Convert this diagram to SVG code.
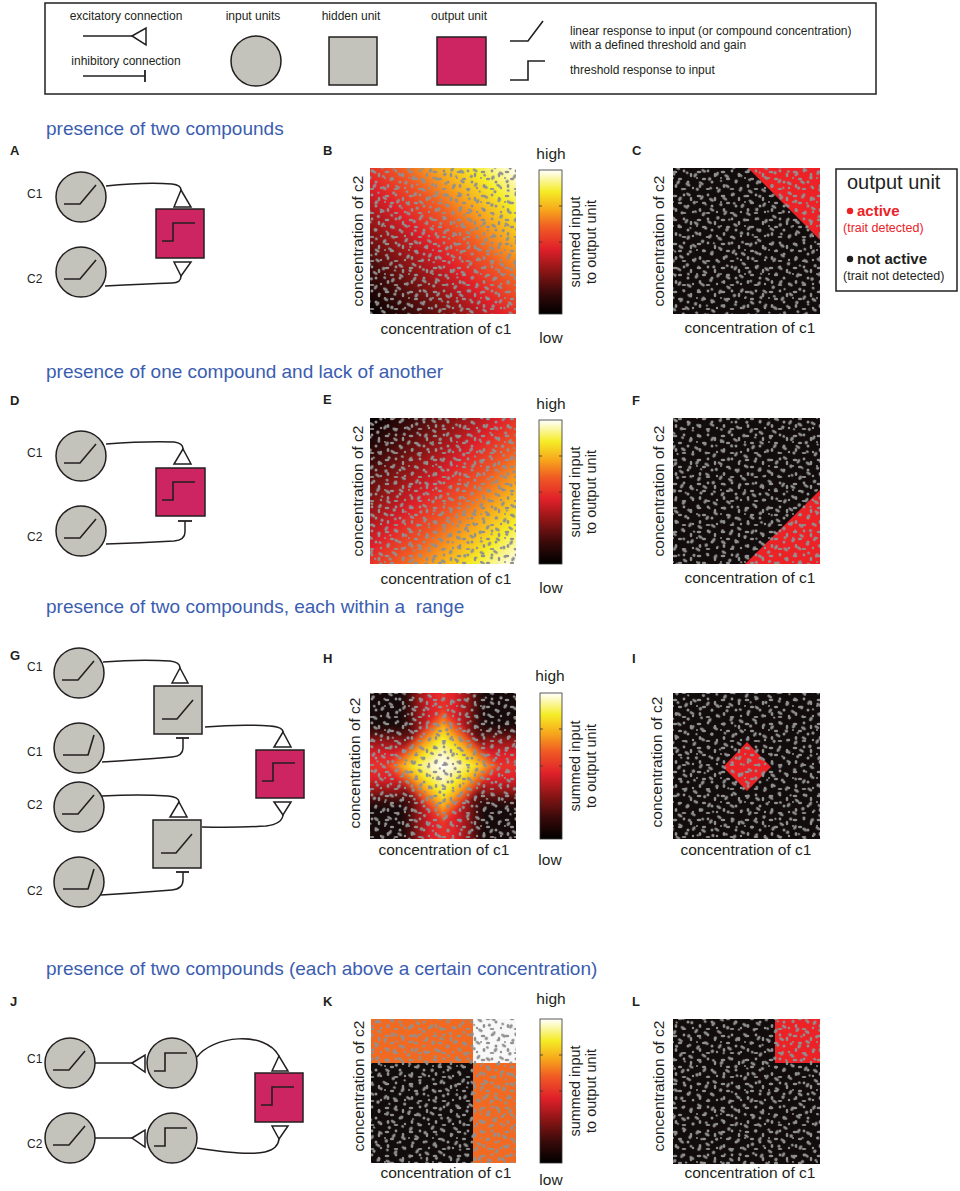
<svg xmlns="http://www.w3.org/2000/svg" width="960" height="1191" viewBox="0 0 960 1191">
<style>
.in{fill:#c4c3bb;stroke:#231f20;stroke-width:1.5}
.out{fill:#cd2562;stroke:#231f20;stroke-width:1.5}
.ic{fill:none;stroke:#231f20;stroke-width:1.6}
.wire{fill:none;stroke:#231f20;stroke-width:1.5}
.tri{fill:#fff;stroke:#231f20;stroke-width:1.5}
.bar{fill:none;stroke:#231f20;stroke-width:1.8}
text{font-family:"Liberation Sans",Arial,sans-serif;fill:#231f20}
.t12{font-size:12px}
.title{font-size:19px;fill:#3b5db0}
.pl{font-size:13px;font-weight:bold}
.ax{font-size:15.5px}
.cb{font-size:14.5px}
.cbar{stroke:#333;stroke-width:0.8}
.tick{stroke:#333;stroke-width:0.8}
.bg{fill:#909090}
.blk{fill:#120c0c}
.red{fill:#ec2227}
.sp1{fill:url(#speck)}
.sp2{fill:url(#speck2)}
</style>
<defs>
<pattern id="speck" width="24" height="24" patternUnits="userSpaceOnUse">
<g fill="#909090">
<ellipse cx="3" cy="4" rx="2.4" ry="1.3"/>
<circle cx="12" cy="3" r="1.4"/>
<ellipse cx="19" cy="7" rx="1.3" ry="2.2"/>
<ellipse cx="8" cy="11" rx="2.2" ry="1.2"/>
<circle cx="16" cy="14" r="1.5"/>
<ellipse cx="4" cy="18" rx="1.4" ry="2"/>
<ellipse cx="12" cy="21" rx="2.4" ry="1.1"/>
<circle cx="21" cy="20" r="1.2"/>
<circle cx="1" cy="10" r="1"/>
</g>
</pattern>
<pattern id="speck2" href="#speck" patternTransform="rotate(33) scale(1.17)"/>
<linearGradient id="cmap" x1="0" y1="1" x2="0" y2="0">
<stop offset="0" stop-color="#000"/>
<stop offset="0.15" stop-color="#3a0a0a"/>
<stop offset="0.3" stop-color="#8c1515"/>
<stop offset="0.45" stop-color="#e0202a"/>
<stop offset="0.6" stop-color="#f05a24"/>
<stop offset="0.72" stop-color="#f7a51c"/>
<stop offset="0.85" stop-color="#f5ec25"/>
<stop offset="1" stop-color="#fff"/>
</linearGradient>
<linearGradient id="gB" href="#cmap" x1="0" y1="1" x2="1" y2="0"/>
<linearGradient id="gE" href="#cmap" x1="0" y1="0" x2="1" y2="1"/>
<linearGradient id="band" x1="0" y1="0" x2="0" y2="1">
<stop offset="0" stop-color="#200a0a" stop-opacity="0"/>
<stop offset="0.2" stop-color="#3a0a0a" stop-opacity="0"/>
<stop offset="0.32" stop-color="#8c1515" stop-opacity="1"/>
<stop offset="0.42" stop-color="#e0202a"/>
<stop offset="0.5" stop-color="#e8302a"/>
<stop offset="0.58" stop-color="#e0202a"/>
<stop offset="0.68" stop-color="#8c1515" stop-opacity="1"/>
<stop offset="0.8" stop-color="#3a0a0a" stop-opacity="0"/>
<stop offset="1" stop-color="#200a0a" stop-opacity="0"/>
</linearGradient>
<linearGradient id="bandV" href="#band" x1="0" y1="0" x2="1" y2="0"/>
<linearGradient id="core" x1="0" y1="0" x2="1" y2="1">
<stop offset="0" stop-color="#fff"/>
<stop offset="0.1" stop-color="#fbf6b8"/>
<stop offset="0.2" stop-color="#f5e925"/>
<stop offset="0.28" stop-color="#f7a51c"/>
<stop offset="0.36" stop-color="#f05a24" stop-opacity="0.8"/>
<stop offset="0.44" stop-color="#e0202a" stop-opacity="0"/>
<stop offset="1" stop-color="#e0202a" stop-opacity="0"/>
</linearGradient>
<linearGradient id="hBR" href="#core" x1="0" y1="0" x2="1" y2="1"/>
<linearGradient id="hBL" href="#core" x1="1" y1="0" x2="0" y2="1"/>
<linearGradient id="hTR" href="#core" x1="0" y1="1" x2="1" y2="0"/>
<linearGradient id="hTL" href="#core" x1="1" y1="1" x2="0" y2="0"/>
<path id="lin" class="ic" d="M-17,7 H-1 L15,-12"/>
<path id="linS" class="ic" d="M-16,7 H9 L15,-13"/>
<path id="linH" class="ic" d="M-16,9 H-1 L15,-10"/>
<path id="step" class="ic" d="M-18,8 H-7 V-10 H15"/>
</defs>

<g id="legend">
<rect x="45" y="3" width="831" height="91" fill="#fff" stroke="#231f20" stroke-width="1.5"/>
<text class="t12" x="126" y="20" text-anchor="middle">excitatory connection</text>
<path class="wire" d="M83,36 H132"/>
<path class="tri" d="M132,36 L146,28 L146,45 Z"/>
<text class="t12" x="126" y="65" text-anchor="middle">inhibitory connection</text>
<path class="wire" d="M83,76 H145"/>
<path class="bar" d="M145,70 V82"/>
<text class="t12" x="253" y="20" text-anchor="middle">input units</text>
<circle class="in" cx="256" cy="61" r="25"/>
<text class="t12" x="351" y="20" text-anchor="middle">hidden unit</text>
<rect class="in" x="329" y="37" width="48" height="48"/>
<text class="t12" x="459" y="20" text-anchor="middle">output unit</text>
<rect class="out" x="437" y="37" width="49" height="48"/>
<path class="ic" d="M510,41 H528 L543,21"/>
<text class="t12" x="570" y="35">linear response to input (or compound concentration)</text>
<text class="t12" x="570" y="49">with a defined threshold and gain</text>
<path class="ic" d="M510,80 H528 V61 H545"/>
<text class="t12" x="570" y="74">threshold response to input</text>
</g>

<g id="titles">
<text class="title" x="46" y="135">presence of two compounds</text>
<text class="title" x="46" y="378">presence of one compound and lack of another</text>
<text class="title" x="46" y="613" style="white-space:pre">presence of two compounds, each within a  range</text>
<text class="title" x="46" y="975">presence of two compounds (each above a certain concentration)</text>
</g>

<g id="panel-letters">
<text class="pl" x="10" y="155">A</text>
<text class="pl" x="323" y="155">B</text>
<text class="pl" x="632" y="155">C</text>
<text class="pl" x="10" y="405">D</text>
<text class="pl" x="323" y="404">E</text>
<text class="pl" x="632" y="405">F</text>
<text class="pl" x="10" y="660">G</text>
<text class="pl" x="323" y="663">H</text>
<text class="pl" x="632" y="663">I</text>
<text class="pl" x="10" y="1006">J</text>
<text class="pl" x="323" y="1006">K</text>
<text class="pl" x="632" y="1006">L</text>
</g>

<!-- Panel A nodes -->
<g id="A-c1"><text class="t12" x="27" y="198">C1</text><circle class="in" cx="81" cy="197" r="25"/><use href="#lin" x="81" y="197"/></g>
<g id="A-c2"><text class="t12" x="27" y="283">C2</text><circle class="in" cx="81" cy="272" r="25"/><use href="#lin" x="81" y="272"/></g>
<g id="A-out"><rect class="out" x="156" y="209" width="48" height="49"/><use href="#step" x="180" y="233"/></g>

<!-- Panel D nodes -->
<g id="D-c1"><text class="t12" x="27" y="457">C1</text><circle class="in" cx="81" cy="456" r="25"/><use href="#lin" x="81" y="456"/></g>
<g id="D-c2"><text class="t12" x="27" y="541">C2</text><circle class="in" cx="81" cy="531" r="25"/><use href="#lin" x="81" y="531"/></g>
<g id="D-out"><rect class="out" x="156" y="468" width="49" height="48"/><use href="#step" x="180" y="492"/></g>

<!-- Panel G nodes -->
<g id="G-c1a"><text class="t12" x="27" y="671">C1</text><circle class="in" cx="79" cy="673" r="25"/><use href="#lin" x="79" y="673"/></g>
<g id="G-c1b"><text class="t12" x="27" y="756">C1</text><circle class="in" cx="79" cy="748" r="25"/><use href="#linS" x="79" y="748"/></g>
<g id="G-c2a"><text class="t12" x="27" y="809">C2</text><circle class="in" cx="79" cy="807" r="25"/><use href="#lin" x="79" y="807"/></g>
<g id="G-c2b"><text class="t12" x="27" y="895">C2</text><circle class="in" cx="79" cy="882" r="25"/><use href="#linS" x="79" y="882"/></g>
<g id="G-h1"><rect class="in" x="154" y="686" width="48" height="48"/><use href="#linH" x="178" y="710"/></g>
<g id="G-h2"><rect class="in" x="153" y="820" width="48" height="48"/><use href="#linH" x="177" y="844"/></g>
<g id="G-out"><rect class="out" x="256" y="750" width="48" height="48"/><use href="#step" x="280" y="773"/></g>

<!-- Panel J nodes -->
<g id="J-c1"><text class="t12" x="27" y="1063">C1</text><circle class="in" cx="70" cy="1063" r="25"/><use href="#lin" x="70" y="1063"/></g>
<g id="J-t1"><circle class="in" cx="172" cy="1063" r="25"/><use href="#step" x="172" y="1063"/></g>
<g id="J-c2"><text class="t12" x="27" y="1148">C2</text><circle class="in" cx="70" cy="1138" r="25"/><use href="#lin" x="70" y="1138"/></g>
<g id="J-t2"><circle class="in" cx="172" cy="1138" r="25"/><use href="#step" x="172" y="1138"/></g>
<g id="J-out"><rect class="out" x="255" y="1073" width="48" height="49"/><use href="#step" x="279" y="1097"/></g>

<g id="connectors">
<!-- A -->
<path class="wire" d="M106,186 Q145,182 172,184 Q181,185 181,190"/>
<path class="tri" d="M181,190 L174,207 L191,207 Z"/>
<path class="wire" d="M105,286 Q145,284 172,283 Q181,283 181,276"/>
<path class="tri" d="M181,276 L174,262 L191,262 Z"/>
<!-- D -->
<path class="wire" d="M106,444 Q145,441 174,442 Q183,443 183,449"/>
<path class="tri" d="M183,449 L174,464 L191,464 Z"/>
<path class="wire" d="M185,521 V532 Q185,540 174,541 Q140,543 106,544"/>
<path class="bar" d="M178,521 H192"/>
<!-- G -->
<path class="wire" d="M103,662 Q140,659 170,661 Q180,662 180,668"/>
<path class="tri" d="M180,668 L172,683 L188,683 Z"/>
<path class="wire" d="M183,738 V748 Q183,756 172,757 Q135,760 102,762"/>
<path class="bar" d="M176,738 H189"/>
<path class="wire" d="M205,727 Q240,724 270,726 Q283,727 283,732"/>
<path class="tri" d="M283,732 L274,747 L291,747 Z"/>
<path class="wire" d="M283,815 Q282,824 266,826 Q235,828 202,827"/>
<path class="tri" d="M283,815 L274,802 L291,802 Z"/>
<path class="wire" d="M102,796 Q140,794 168,796 Q179,797 179,802"/>
<path class="tri" d="M179,802 L170,817 L187,817 Z"/>
<path class="wire" d="M183,872 V880 Q183,889 172,890 Q135,893 101,895"/>
<path class="bar" d="M176,872 H189"/>
<!-- J -->
<path class="wire" d="M95,1063 H132"/>
<path class="tri" d="M132,1063 L145,1055 L145,1072 Z"/>
<path class="wire" d="M95,1138 H132"/>
<path class="tri" d="M132,1138 L145,1130 L145,1147 Z"/>
<path class="wire" d="M197,1057 C212,1036 265,1030 279,1056"/>
<path class="tri" d="M279,1056 L272,1071 L288,1071 Z"/>
<path class="wire" d="M197,1148 C222,1152 252,1155 265,1152 Q278,1149 279,1139"/>
<path class="tri" d="M279,1139 L272,1126 L288,1126 Z"/>
</g>

<!-- Panel B -->
<g id="B">
<rect class="bg" x="370" y="168" width="146" height="146"/>
<rect x="370" y="168" width="146" height="146" fill="url(#gB)"/>
<rect class="sp1" x="370" y="168" width="146" height="146"/>
<rect class="sp2" x="370" y="168" width="146" height="146"/>
<text class="ax" x="446" y="334" text-anchor="middle">concentration of c1</text>
<text class="ax" transform="translate(363,241) rotate(-90)" text-anchor="middle">concentration of c2</text>
<rect class="cbar" x="539" y="170" width="23" height="144" fill="url(#cmap)"/>
<path class="tick" d="M539,206 h3 M539,242 h3 M539,278 h3 M562,206 h-3 M562,242 h-3 M562,278 h-3"/>
<text class="ax" x="551" y="159" text-anchor="middle">high</text>
<text class="ax" x="551" y="343" text-anchor="middle">low</text>
<text class="cb" transform="translate(580,242) rotate(-90)" text-anchor="middle">summed input</text>
<text class="cb" transform="translate(596,242) rotate(-90)" text-anchor="middle">to output unit</text>
</g>

<!-- Panel C -->
<g id="C">
<rect class="bg" x="673" y="168" width="147" height="146"/>
<rect class="blk" x="673" y="168" width="147" height="146"/>
<polygon class="red" points="748,168 820,168 820,240"/>
<rect class="sp1" x="673" y="168" width="147" height="146"/>
<rect class="sp2" x="673" y="168" width="147" height="146"/>
<text class="ax" x="750" y="333" text-anchor="middle">concentration of c1</text>
<text class="ax" transform="translate(664,241) rotate(-90)" text-anchor="middle">concentration of c2</text>
</g>
<g id="C-legend">
<rect x="836" y="169" width="121" height="122" fill="#fff" stroke="#231f20" stroke-width="1.5"/>
<text x="847" y="189" font-size="20">output unit</text>
<circle cx="850" cy="211" r="3.2" fill="#ec2227"/>
<text x="857" y="216" font-size="15" font-weight="bold" style="fill:#ec2227">active</text>
<text x="843" y="232" font-size="12.5" style="fill:#ec2227">(trait detected)</text>
<circle cx="850" cy="259" r="3.2" fill="#231f20"/>
<text x="857" y="264" font-size="15" font-weight="bold">not active</text>
<text x="843" y="280" font-size="12.5">(trait not detected)</text>
</g>

<!-- Panel E -->
<g id="E">
<rect class="bg" x="370" y="418" width="146" height="146"/>
<rect x="370" y="418" width="146" height="146" fill="url(#gE)"/>
<rect class="sp1" x="370" y="418" width="146" height="146"/>
<rect class="sp2" x="370" y="418" width="146" height="146"/>
<text class="ax" x="446" y="584" text-anchor="middle">concentration of c1</text>
<text class="ax" transform="translate(363,491) rotate(-90)" text-anchor="middle">concentration of c2</text>
<rect class="cbar" x="539" y="420" width="23" height="144" fill="url(#cmap)"/>
<path class="tick" d="M539,456 h3 M539,492 h3 M539,528 h3 M562,456 h-3 M562,492 h-3 M562,528 h-3"/>
<text class="ax" x="551" y="409" text-anchor="middle">high</text>
<text class="ax" x="551" y="593" text-anchor="middle">low</text>
<text class="cb" transform="translate(580,492) rotate(-90)" text-anchor="middle">summed input</text>
<text class="cb" transform="translate(596,492) rotate(-90)" text-anchor="middle">to output unit</text>
</g>

<!-- Panel F -->
<g id="F">
<rect class="bg" x="673" y="418" width="147" height="146"/>
<rect class="blk" x="673" y="418" width="147" height="146"/>
<polygon class="red" points="820,490 820,564 745,564"/>
<rect class="sp1" x="673" y="418" width="147" height="146"/>
<rect class="sp2" x="673" y="418" width="147" height="146"/>
<text class="ax" x="750" y="583" text-anchor="middle">concentration of c1</text>
<text class="ax" transform="translate(664,491) rotate(-90)" text-anchor="middle">concentration of c2</text>
</g>

<!-- Panel H -->
<g id="H">
<rect x="370" y="693" width="146" height="146" fill="#170a0a"/>
<rect x="370" y="693" width="146" height="146" fill="url(#band)"/>
<rect x="370" y="693" width="146" height="146" fill="url(#bandV)"/>
<rect x="370" y="693" width="73" height="73" fill="url(#hTL)"/>
<rect x="443" y="693" width="73" height="73" fill="url(#hTR)"/>
<rect x="370" y="766" width="73" height="73" fill="url(#hBL)"/>
<rect x="443" y="766" width="73" height="73" fill="url(#hBR)"/>
<rect class="sp1" x="370" y="693" width="146" height="146"/>
<rect class="sp2" x="370" y="693" width="146" height="146"/>
<text class="ax" x="444" y="855" text-anchor="middle">concentration of c1</text>
<text class="ax" transform="translate(360,763) rotate(-90)" text-anchor="middle">concentration of c2</text>
<rect class="cbar" x="540" y="693" width="22" height="146" fill="url(#cmap)"/>
<path class="tick" d="M540,729 h3 M540,766 h3 M540,802 h3 M562,729 h-3 M562,766 h-3 M562,802 h-3"/>
<text class="ax" x="550" y="681" text-anchor="middle">high</text>
<text class="ax" x="550" y="865" text-anchor="middle">low</text>
<text class="cb" transform="translate(580,766) rotate(-90)" text-anchor="middle">summed input</text>
<text class="cb" transform="translate(596,766) rotate(-90)" text-anchor="middle">to output unit</text>
</g>

<!-- Panel I -->
<g id="I">
<rect class="bg" x="673" y="693" width="147" height="146"/>
<rect class="blk" x="673" y="693" width="147" height="146"/>
<polygon class="red" points="747,742 771,767 747,791 723,767"/>
<rect class="sp1" x="673" y="693" width="147" height="146"/>
<rect class="sp2" x="673" y="693" width="147" height="146"/>
<text class="ax" x="746" y="855" text-anchor="middle">concentration of c1</text>
<text class="ax" transform="translate(662,762) rotate(-90)" text-anchor="middle">concentration of c2</text>
</g>

<!-- Panel K -->
<g id="K">
<rect class="bg" x="371" y="1019" width="145" height="144"/>
<rect x="371" y="1019" width="102" height="44" fill="#f26a21"/>
<rect x="473" y="1019" width="43" height="44" fill="#f8f8f8"/>
<rect x="371" y="1063" width="102" height="100" fill="#120c0c"/>
<rect x="473" y="1063" width="43" height="100" fill="#f26a21"/>
<rect class="sp1" x="371" y="1019" width="145" height="144"/>
<rect class="sp2" x="371" y="1019" width="145" height="144"/>
<text class="ax" x="446" y="1178" text-anchor="middle">concentration of c1</text>
<text class="ax" transform="translate(364,1086) rotate(-90)" text-anchor="middle">concentration of c2</text>
<rect class="cbar" x="540" y="1019" width="22" height="144" fill="url(#cmap)"/>
<path class="tick" d="M540,1055 h3 M540,1091 h3 M540,1127 h3 M562,1055 h-3 M562,1091 h-3 M562,1127 h-3"/>
<text class="ax" x="551" y="1004" text-anchor="middle">high</text>
<text class="ax" x="551" y="1185" text-anchor="middle">low</text>
<text class="cb" transform="translate(580,1091) rotate(-90)" text-anchor="middle">summed input</text>
<text class="cb" transform="translate(596,1091) rotate(-90)" text-anchor="middle">to output unit</text>
</g>

<!-- Panel L -->
<g id="L">
<rect class="bg" x="673" y="1019" width="147" height="145"/>
<rect class="blk" x="673" y="1019" width="147" height="145"/>
<rect class="red" x="775" y="1019" width="45" height="44"/>
<rect class="sp1" x="673" y="1019" width="147" height="145"/>
<rect class="sp2" x="673" y="1019" width="147" height="145"/>
<text class="ax" x="750" y="1178" text-anchor="middle">concentration of c1</text>
<text class="ax" transform="translate(664,1086) rotate(-90)" text-anchor="middle">concentration of c2</text>
</g>
</svg>
